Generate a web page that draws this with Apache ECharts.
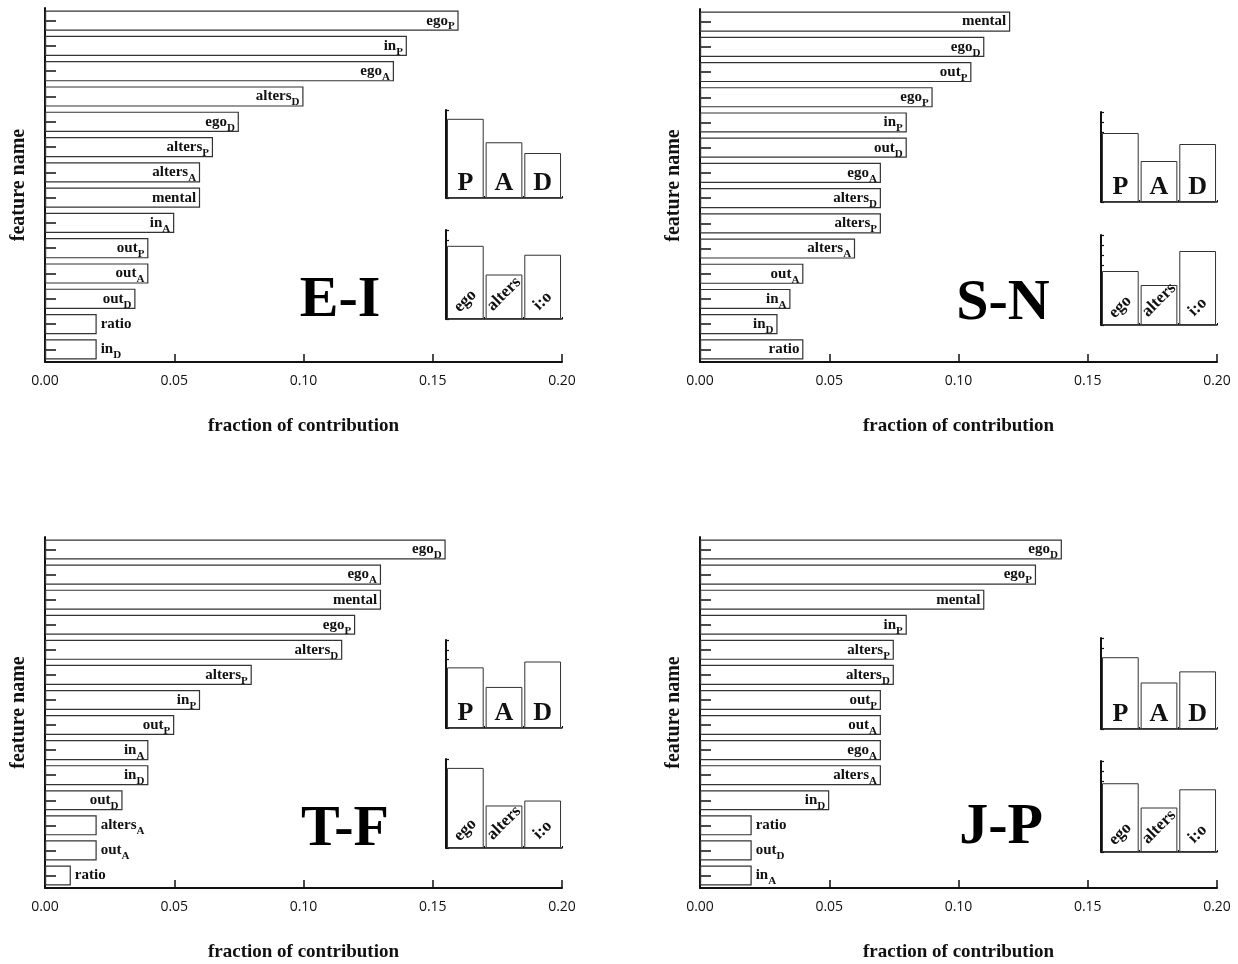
<!DOCTYPE html>
<html><head><meta charset="utf-8">
<script src="https://cdn.jsdelivr.net/npm/echarts@6/dist/echarts.min.js"></script>
<style>html,body{margin:0;padding:0;background:#fff}#c{width:1238px;height:964px}</style>
</head><body><div id="c"></div>
<script>
// ---- data ----
const xTickValues = [0.00, 0.05, 0.10, 0.15, 0.20];
const PAD_labels = ['P', 'A', 'D'];
const GROUP_labels = ['ego', 'alters', 'i:o'];

const EI_features = ['ego_P','in_P','ego_A','alters_D','ego_D','alters_P','alters_A','mental','in_A','out_P','out_A','out_D','ratio','in_D'];
const EI_values   = [0.160,0.140,0.135,0.100,0.075,0.065,0.060,0.060,0.050,0.040,0.040,0.035,0.020,0.020];
const EI_pad      = [0.405,0.285,0.230];
const EI_group    = [0.370,0.225,0.325];

const SN_features = ['mental','ego_D','out_P','ego_P','in_P','out_D','ego_A','alters_D','alters_P','alters_A','out_A','in_A','in_D','ratio'];
const SN_values   = [0.120,0.110,0.105,0.090,0.080,0.080,0.070,0.070,0.070,0.060,0.040,0.035,0.030,0.040];
const SN_pad      = [0.345,0.205,0.290];
const SN_group    = [0.270,0.200,0.370];

const TF_features = ['ego_D','ego_A','mental','ego_P','alters_D','alters_P','in_P','out_P','in_A','in_D','out_D','alters_A','out_A','ratio'];
const TF_values   = [0.155,0.130,0.130,0.120,0.115,0.080,0.060,0.050,0.040,0.040,0.030,0.020,0.020,0.010];
const TF_pad      = [0.310,0.210,0.340];
const TF_group    = [0.405,0.215,0.240];

const JP_features = ['ego_D','ego_P','mental','in_P','alters_P','alters_D','out_P','out_A','ego_A','alters_A','in_D','ratio','out_D','in_A'];
const JP_values   = [0.140,0.130,0.110,0.080,0.075,0.075,0.070,0.070,0.070,0.070,0.050,0.020,0.020,0.020];
const JP_pad      = [0.355,0.230,0.285];
const JP_group    = [0.340,0.220,0.310];

// ---- layout / style ----
const SERIF = '"Liberation Serif", "DejaVu Serif", serif';
const SANS = '"Open Sans", "Liberation Sans", sans-serif';
const groupLabelLift = [18, 25, 18];

const panels = [
  {title:'E-I', feats:EI_features, vals:EI_values, pad:EI_pad, grp:EI_group,
   main:{left:45, top:8, width:517, height:354}, padBox:{left:446, top:110, width:116, height:88},
   grpBox:{left:446, top:230, width:116, height:89}, tpos:[340, 301]},
  {title:'S-N', feats:SN_features, vals:SN_values, pad:SN_pad, grp:SN_group,
   main:{left:700, top:9, width:517, height:353}, padBox:{left:1101, top:112, width:116, height:90},
   grpBox:{left:1101, top:235, width:116, height:90}, tpos:[1003, 304]},
  {title:'T-F', feats:TF_features, vals:TF_values, pad:TF_pad, grp:TF_group,
   main:{left:45, top:537, width:517, height:351}, padBox:{left:446, top:640, width:116, height:88},
   grpBox:{left:446, top:759, width:116, height:89}, tpos:[345, 830]},
  {title:'J-P', feats:JP_features, vals:JP_values, pad:JP_pad, grp:JP_group,
   main:{left:700, top:537, width:517, height:351}, padBox:{left:1101, top:638, width:116, height:91},
   grpBox:{left:1101, top:761, width:116, height:91}, tpos:[1001, 828]}
];

function featLabel(p) {
  const f = p.name, i = f.indexOf('_');
  return i < 0 ? '{b|' + f + '}' : '{b|' + f.slice(0, i) + '}{s|' + f.slice(i + 1) + '}';
}

const grid = [], xAxis = [], yAxis = [], series = [], graphic = [];
panels.forEach((P) => {
  // main chart
  let gi = grid.length;
  grid.push(Object.assign({containLabel:false}, P.main));
  xAxis.push({
    type:'value', gridIndex:gi, min:xTickValues[0], max:xTickValues[xTickValues.length-1],
    interval:xTickValues[1]-xTickValues[0],
    name:'fraction of contribution', nameLocation:'middle', nameGap:55,
    nameTextStyle:{fontFamily:SERIF, fontWeight:'bold', fontSize:19, color:'#111'},
    axisLine:{show:true, lineStyle:{color:'#111', width:2}},
    axisTick:{show:true, inside:true, length:8, lineStyle:{color:'#111', width:1.5}},
    axisLabel:{show:true, margin:12, fontFamily:SANS, fontSize:14, color:'#111',
               formatter:(v)=>v.toFixed(2)},
    splitLine:{show:false}
  });
  yAxis.push({
    type:'category', gridIndex:gi, data:P.feats, inverse:true,
    name:'feature name', nameLocation:'middle', nameGap:16, nameRotate:90,
    nameTextStyle:{fontFamily:SERIF, fontWeight:'bold', fontSize:20, color:'#111'},
    axisLine:{show:true, lineStyle:{color:'#111', width:2}},
    axisTick:{show:true, inside:true, alignWithLabel:true, length:11, lineStyle:{color:'#111', width:1.5}},
    axisLabel:{show:false}, splitLine:{show:false}
  });
  series.push({
    type:'bar', xAxisIndex:gi, yAxisIndex:gi, barCategoryGap:'20%',
    itemStyle:{color:'rgba(255,255,255,0)', borderColor:'#333', borderWidth:1.2},
    label:{show:true, formatter:featLabel, color:'#111', distance:4,
      rich:{
        b:{fontFamily:SERIF, fontWeight:'bold', fontSize:15, lineHeight:18, color:'#111'},
        s:{fontFamily:SERIF, fontWeight:'bold', fontSize:11, lineHeight:11, padding:[12,0,0,0], color:'#111'}
      }},
    data:P.vals.map((v)=>({value:v, label:{position: v < 0.025 ? 'right' : 'insideRight'}})),
    silent:true, animation:false
  });

  // insets
  [[P.padBox, PAD_labels, P.pad, false], [P.grpBox, GROUP_labels, P.grp, true]].forEach(([box, cats, vals, rot]) => {
    const k = grid.length;
    grid.push(Object.assign({containLabel:false}, box));
    xAxis.push({
      type:'category', gridIndex:k, data:cats,
      axisLine:{show:true, lineStyle:{color:'#111', width:1.5}},
      axisTick:{show:true, inside:true, length:2, lineStyle:{color:'#111'}},
      axisLabel:{show:false}, splitLine:{show:false}
    });
    yAxis.push({
      type:'value', gridIndex:k, min:0, max:0.45, interval:0.05,
      axisLine:{show:true, lineStyle:{color:'#111', width:2}},
      axisTick:{show:true, inside:true, length:3, lineStyle:{color:'#111', width:1.2}},
      axisLabel:{show:false}, splitLine:{show:false}
    });
    series.push({
      type:'bar', xAxisIndex:k, yAxisIndex:k, barCategoryGap:'5%',
      itemStyle:{color:'#fff', borderColor:'#333', borderWidth:1},
      label: rot ? {show:true, formatter:'{b}', position:'insideBottom', rotate:45,
                    align:'center', verticalAlign:'middle',
                    fontFamily:SERIF, fontWeight:'bold', fontSize:17, color:'#111'}
                 : {show:true, formatter:'{b}', position:'insideBottom', distance:2,
                    fontFamily:SERIF, fontWeight:'bold', fontSize:26, color:'#111'},
      data: vals.map((v, i) => rot ? {value:v, label:{distance:groupLabelLift[i]}} : {value:v}),
      silent:true, animation:false
    });
  });

  graphic.push({
    type:'text', x:P.tpos[0], y:P.tpos[1], silent:true,
    style:{text:P.title, font:'bold 58px ' + SERIF, fill:'#000', textAlign:'center', textVerticalAlign:'middle'}
  });
});

const chart = echarts.init(document.getElementById('c'), null, {renderer:'canvas'});
chart.setOption({animation:false, backgroundColor:'#fff', grid, xAxis, yAxis, series, graphic});
</script>
</body></html>
